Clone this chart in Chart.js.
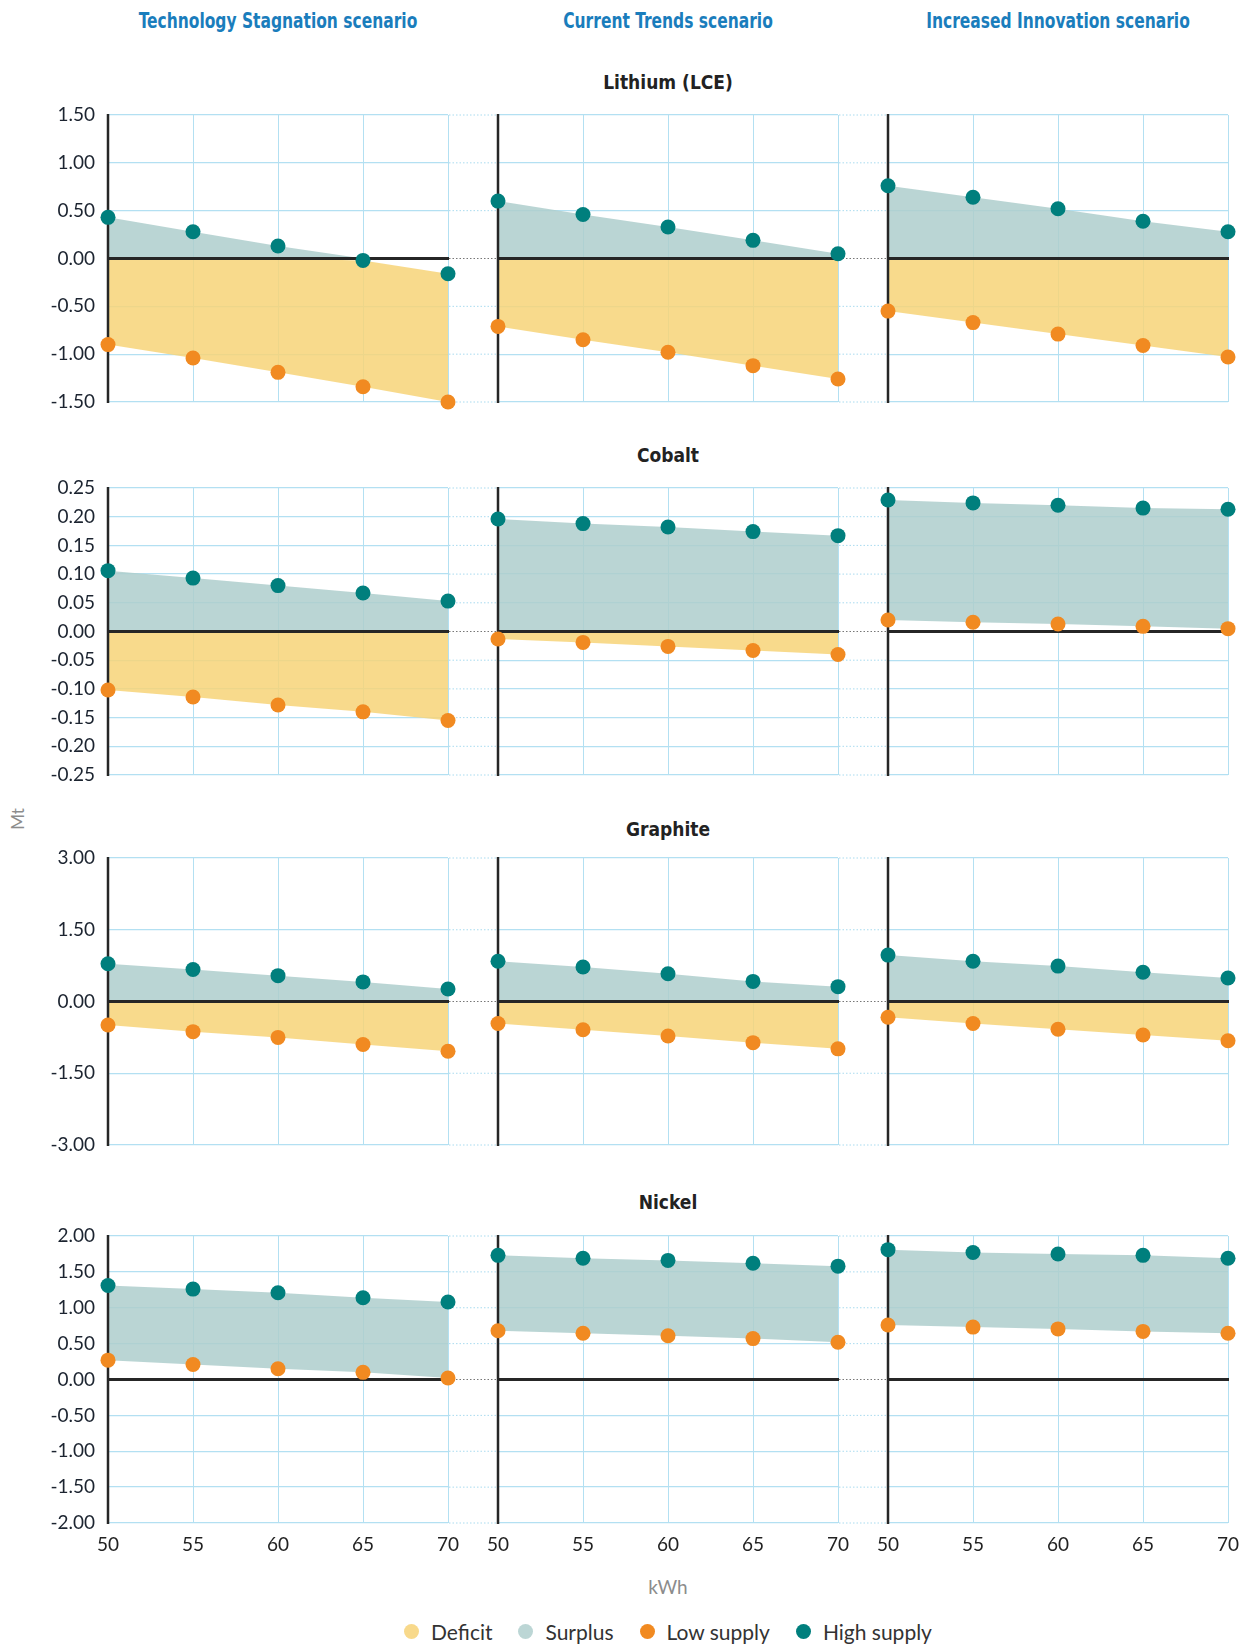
<!DOCTYPE html>
<html>
<head>
<meta charset="utf-8">
<title>Mineral balance by battery size</title>
<script src="https://cdn.jsdelivr.net/npm/chart.js@4.4.1/dist/chart.umd.min.js"></script>
<style>
  body { margin: 0; width: 1250px; height: 1645px; position: relative; overflow: hidden; background: #fff; font-family: Lato, "Open Sans", sans-serif; }
  .lbl { position: absolute; transform: translate(-50%, -50%); white-space: nowrap; }
  .scen { color: #1a7dbc; font: bold 21px "Liberation Sans Narrow", "DejaVu Sans Condensed", Roboto, sans-serif; transform: translate(-50%, -50%) scaleX(0.82); }
  .mineral { color: #222; font: bold 19px "Liberation Sans Narrow", "DejaVu Sans Condensed", Roboto, sans-serif; }
  .axis { color: #8c8c8c; font-size: 19px; }
  canvas { position: absolute; }
  .legend { position: absolute; left: 43px; width: 1250px; top: 1619px; display: flex; justify-content: center; gap: 26px; font-size: 21px; color: #333; }
  .legend span { display: inline-flex; align-items: center; }
  .legend i { display: inline-block; width: 15px; height: 15px; border-radius: 50%; margin-right: 12px; }
</style>
</head>
<body>

<script>
// kWh battery size on the x axis
const kwh = [50, 55, 60, 65, 70];
const scenarios = ['Technology Stagnation scenario', 'Current Trends scenario', 'Increased Innovation scenario'];
const minerals = ['Lithium (LCE)', 'Cobalt', 'Graphite', 'Nickel'];

// Mt, one row per scenario (stagnation, current trends, innovation)
const lithiumHigh = [
  [0.43, 0.28, 0.13, -0.02, -0.16],
  [0.60, 0.46, 0.33, 0.19, 0.05],
  [0.76, 0.64, 0.52, 0.39, 0.28]
];
const lithiumLow = [
  [-0.90, -1.04, -1.19, -1.34, -1.50],
  [-0.71, -0.85, -0.98, -1.12, -1.26],
  [-0.55, -0.67, -0.79, -0.91, -1.03]
];
const cobaltHigh = [
  [0.106, 0.093, 0.080, 0.067, 0.053],
  [0.196, 0.188, 0.182, 0.174, 0.167],
  [0.229, 0.224, 0.220, 0.215, 0.213]
];
const cobaltLow = [
  [-0.102, -0.114, -0.128, -0.140, -0.155],
  [-0.013, -0.019, -0.026, -0.033, -0.040],
  [0.020, 0.016, 0.013, 0.009, 0.005]
];
const graphiteHigh = [
  [0.79, 0.67, 0.54, 0.41, 0.26],
  [0.84, 0.72, 0.58, 0.42, 0.31],
  [0.97, 0.84, 0.74, 0.61, 0.49]
];
const graphiteLow = [
  [-0.49, -0.63, -0.75, -0.90, -1.04],
  [-0.46, -0.59, -0.72, -0.86, -0.99],
  [-0.33, -0.46, -0.58, -0.70, -0.82]
];
const nickelHigh = [
  [1.31, 1.26, 1.21, 1.14, 1.08],
  [1.73, 1.69, 1.66, 1.62, 1.58],
  [1.81, 1.77, 1.75, 1.73, 1.69]
];
const nickelLow = [
  [0.27, 0.21, 0.15, 0.10, 0.02],
  [0.68, 0.645, 0.61, 0.57, 0.52],
  [0.76, 0.73, 0.705, 0.67, 0.645]
];

// y axis ticks per mineral
const yMin = [-1.5, -0.25, -3, -2];
const yMax = [1.5, 0.25, 3, 2];
const yStep = [0.5, 0.05, 1.5, 0.5];

const highs = [lithiumHigh, cobaltHigh, graphiteHigh, nickelHigh];
const lows = [lithiumLow, cobaltLow, graphiteLow, nickelLow];

// colours
const DEFICIT = 'rgba(247, 211, 120, 0.85)';
const SURPLUS = 'rgba(174, 206, 205, 0.85)';
const LOW = '#f18a21';
const HIGH = '#007f7d';
const GRID = '#b3e0f2';
const INK = '#262626';

// layout of the 4x3 panels (plot areas)
const colLeft = [108, 498, 888];
const rowTop = [115, 488, 858, 1236];
const plotW = 340, plotH = 287, gap = 50;
const tickW = 100, xTickH = 40, pad = 28;

// zero line, left axis line, dotted links across the gap
const axisLines = {
  id: 'axisLines',
  beforeDatasetsDraw(chart, args, opts) {
    const { ctx, chartArea: a, scales: { y } } = chart;
    const y0 = y.getPixelForValue(0);
    ctx.save();
    if (opts.gapRight) {
      ctx.setLineDash([1.5, 2]);
      ctx.lineWidth = 1;
      y.ticks.forEach(t => {
        const py = y.getPixelForValue(t.value);
        ctx.strokeStyle = Math.abs(t.value) < 1e-9 ? '#777' : '#a9dbef';
        ctx.beginPath();
        ctx.moveTo(a.right + 1, py);
        ctx.lineTo(a.right + opts.gapRight, py);
        ctx.stroke();
      });
      ctx.setLineDash([]);
    }
    ctx.strokeStyle = INK;
    ctx.lineWidth = 3;
    ctx.beginPath();
    ctx.moveTo(a.left, y0);
    ctx.lineTo(a.right + 1, y0);
    ctx.stroke();
    ctx.lineWidth = 2.5;
    ctx.beginPath();
    ctx.moveTo(a.left, a.top - 1);
    ctx.lineTo(a.left, a.bottom + 1);
    ctx.stroke();
    ctx.restore();
  }
};

function label(text, cls, x, y) {
  const d = document.createElement('div');
  d.className = 'lbl ' + cls;
  d.textContent = text;
  d.style.left = x + 'px';
  d.style.top = y + 'px';
  document.body.appendChild(d);
  return d;
}

const pts = (xs, ys) => xs.map((x, i) => ({ x, y: ys[i] }));

scenarios.forEach((s, c) => label(s, 'scen', colLeft[c] + plotW / 2, 21));
const mineralY = [82, 455, 829, 1202];
minerals.forEach((m, r) => label(m, 'mineral', colLeft[1] + plotW / 2, mineralY[r]));
const mt = label('Mt', 'axis', 17, 819);
mt.style.transform = 'translate(-50%, -50%) rotate(-90deg)';
mt.style.fontSize = '17px';
label('kWh', 'axis', colLeft[1] + plotW / 2, 1586);

minerals.forEach((m, r) => {
  scenarios.forEach((s, c) => {
    const first = c === 0, bottom = r === 3;
    const padL = first ? 0 : pad;
    const padR = c < 2 ? gap : pad;
    const w = (first ? tickW : padL) + plotW + padR;
    const h = pad + plotH + (bottom ? xTickH : 0) + pad;

    const cv = document.createElement('canvas');
    cv.width = w;
    cv.height = h;
    cv.style.left = (colLeft[c] - (first ? tickW : padL)) + 'px';
    cv.style.top = (rowTop[r] - pad) + 'px';
    document.body.appendChild(cv);

    const hi = highs[r][c], lo = lows[r][c];

    new Chart(cv, {
      type: 'line',
      data: {
        datasets: [
          { label: 'High supply', data: pts(kwh, hi), showLine: false, pointRadius: 7.5, pointBorderWidth: 0,
            pointBackgroundColor: HIGH, backgroundColor: HIGH, clip: false },
          { label: 'Low supply', data: pts(kwh, lo), showLine: false, pointRadius: 7.5, pointBorderWidth: 0,
            pointBackgroundColor: LOW, backgroundColor: LOW, clip: false },
          { label: 'Surplus', data: pts(kwh, hi.map(v => Math.max(v, 0))), pointRadius: 0, borderColor: 'transparent',
            backgroundColor: SURPLUS, fill: 3 },
          { label: 'Surplus base', data: pts(kwh, lo.map(v => Math.max(v, 0))), pointRadius: 0, borderColor: 'transparent' },
          { label: 'Deficit', data: pts(kwh, hi.map(v => Math.min(v, 0))), pointRadius: 0, borderColor: 'transparent',
            backgroundColor: DEFICIT, fill: 5 },
          { label: 'Deficit base', data: pts(kwh, lo.map(v => Math.min(v, 0))), pointRadius: 0, borderColor: 'transparent' }
        ]
      },
      options: {
        responsive: false,
        animation: false,
        events: [],
        layout: { padding: { left: padL, right: padR, top: pad, bottom: pad } },
        plugins: {
          legend: { display: false },
          tooltip: { enabled: false },
          filler: { drawTime: 'beforeDatasetsDraw' },
          axisLines: { gapRight: c < 2 ? gap : 0 }
        },
        scales: {
          x: {
            type: 'linear', min: 50, max: 70,
            grid: { color: GRID, lineWidth: 1, drawTicks: false },
            border: { display: false },
            ticks: { display: bottom, stepSize: 5, padding: 10, color: '#222', font: { family: 'Lato', size: 19 } },
            afterFit: sc => { sc.height = bottom ? xTickH : 0; }
          },
          y: {
            min: yMin[r], max: yMax[r],
            grid: { color: GRID, lineWidth: 1.3, drawTicks: false },
            border: { display: false },
            ticks: {
              display: first, stepSize: yStep[r], padding: 13, color: '#1c2430',
              font: { family: 'Lato', size: 19 },
              callback: v => Math.abs(v) < 1e-9 ? '0.00' : Number(v).toFixed(2)
            },
            afterFit: sc => { sc.width = first ? tickW : 0; }
          }
        }
      },
      plugins: [axisLines]
    });
  });
});

// legend
const legend = document.createElement('div');
legend.className = 'legend';
[['Deficit', '#f8d98b'], ['Surplus', '#bcd6d5'], ['Low supply', LOW], ['High supply', HIGH]].forEach(([t, col]) => {
  const s = document.createElement('span');
  s.innerHTML = '<i style="background:' + col + '"></i>' + t;
  legend.appendChild(s);
});
document.body.appendChild(legend);
</script>
</body>
</html>
